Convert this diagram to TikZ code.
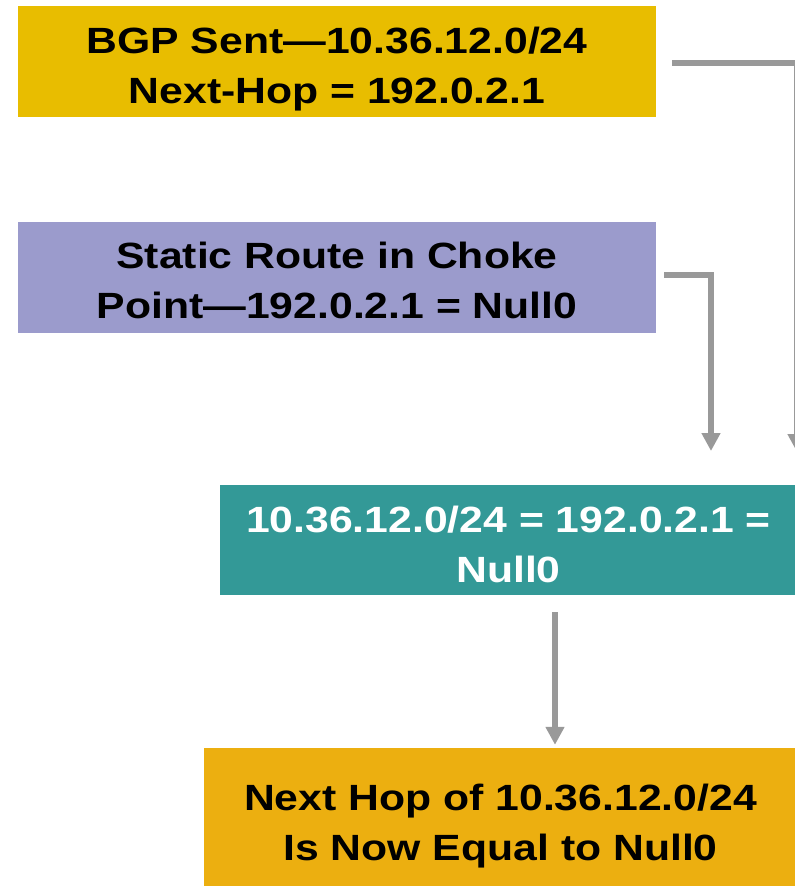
\documentclass[tikz,border=0pt]{standalone}
\usepackage{fontspec}
\setmainfont{Liberation Sans}[FakeStretch=1.17]
\usetikzlibrary{arrows.meta}
\definecolor{cgold}{RGB}{232,189,0}
\definecolor{clav}{RGB}{155,155,204}
\definecolor{cteal}{RGB}{51,153,151}
\definecolor{corange}{RGB}{236,175,16}
\definecolor{cgray}{RGB}{153,153,153}
\tikzset{
  box/.style={rectangle, inner sep=0pt},
  txt/.style={inner sep=0pt, align=center, font=\fontsize{36.5}{50}\selectfont\bfseries},
  conn/.style={draw=cgray, line width=6pt, -{Triangle[width=18pt,length=18pt]}}
}
\begin{document}
\begin{tikzpicture}[x=1pt,y=-1pt]
\useasboundingbox (0,0) rectangle (795,887);
\node[box, fill=cgold, minimum width=638pt, minimum height=111pt] (b1) at (337,61.5) {};
\node[box, fill=clav, minimum width=638pt, minimum height=111pt] (b2) at (337,277.5) {};
\node[box, fill=cteal, minimum width=577pt, minimum height=110pt] (b3) at (508.5,540) {};
\node[box, fill=corange, minimum width=593pt, minimum height=138pt] (b4) at (500.5,817) {};
\node[txt] (l1) at ([yshift=-7.5pt]b1.center) {BGP Sent---10.36.12.0/24\\Next-Hop = 192.0.2.1};
\node[txt] (l2) at ([yshift=-2.5pt]b2.center) {Static Route in Choke\\Point---192.0.2.1 = Null0};
\node[txt, text=white] (l3) at ([yshift=-4.5pt]b3.center) {10.36.12.0/24 = 192.0.2.1 =\\Null0};
\node[txt] (l4) at ([yshift=-9pt]b4.center) {Next Hop of 10.36.12.0/24\\Is Now Equal to Null0};
\coordinate (t1) at (797,452);
\coordinate (t2) at (711,451);
\draw[conn] ([xshift=16pt,yshift=-1.5pt]b1.east) -| (t1);
\draw[conn] ([xshift=8pt,yshift=2.5pt]b2.east) -| (t2);
\draw[conn] ([xshift=46.5pt,yshift=-17pt]b3.south) -- ([xshift=54.5pt,yshift=3pt]b4.north);
\end{tikzpicture}
\end{document}
